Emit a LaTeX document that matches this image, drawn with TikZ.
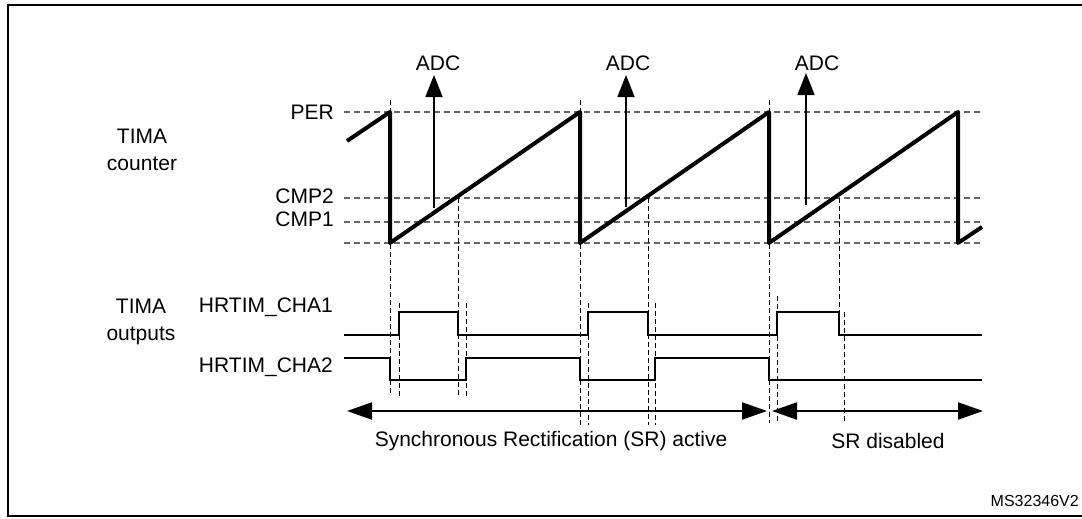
\documentclass[tikz,border=0pt]{standalone}
\usepackage{fontspec}
\setmainfont{Liberation Sans}
\usetikzlibrary{arrows.meta}
\begin{document}
\begin{tikzpicture}[x=1pt,y=-1pt,
  lbl/.style={font=\fontsize{21}{26.5}\selectfont, inner sep=0pt, align=center},
  level/.style={draw=black!60, dash pattern=on 6pt off 4pt, line width=1.3pt},
  vguide/.style={draw=black, dash pattern=on 5pt off 3pt, line width=1pt},
  saw/.style={line width=4pt, line join=round},
  sig/.style={line width=2.5pt},
  adcarrow/.style={line width=1.6pt, -{Triangle[length=22pt,width=17pt]}},
  span/.style={line width=2.2pt, {Triangle[length=25pt,width=17pt]}-{Triangle[length=25pt,width=17pt]}},
]
\useasboundingbox (0,0) rectangle (1082,519);
% frame
\draw[line width=2.6pt] (1090,5) -- (8,5) -- (8,516) -- (1090,516);

% left labels
\node[lbl] (tc) at (142,150) {TIMA\\counter};
\node[lbl] (to) at (141,322) {TIMA\\outputs};
\node[lbl, anchor=east] (per) at (334,112) {PER};
\node[lbl, anchor=east] (cmp2) at (334,196) {CMP2};
\node[lbl, anchor=east] (cmp1) at (334,219) {CMP1};
\node[lbl, anchor=east] (cha1) at (333,307) {HRTIM\_CHA1};
\node[lbl, anchor=east] (cha2) at (333,367) {HRTIM\_CHA2};

% level guides
\coordinate (perL) at (344,112); \coordinate (perR) at (982,112);
\coordinate (c2L) at (344,198);  \coordinate (c2R) at (982,198);
\coordinate (c1L) at (344,222);  \coordinate (c1R) at (982,222);
\coordinate (zL) at (344,243);   \coordinate (zR) at (982,243);
\draw[level] (perL) -- (perR);
\draw[level] (c2L) -- (c2R);
\draw[level] (c1L) -- (c1R);
\draw[level] (zL) -- (zR);

% vertical guides
\draw[vguide] (390,100) -- (390,393);
\draw[vguide] (399,303) -- (399,396);
\draw[vguide] (458,198) -- (458,396);
\draw[vguide] (466,303) -- (466,396);
\draw[vguide] (580,100) -- (580,425);
\draw[vguide] (588,303) -- (588,425);
\draw[vguide] (648,198) -- (648,425);
\draw[vguide] (655,303) -- (655,425);
\draw[vguide] (769,100) -- (769,423);
\draw[vguide] (777,296) -- (777,423);
\draw[vguide] (839,198) -- (839,335);
\draw[vguide] (844,312) -- (844,422);

% sawtooth counter
\draw[saw] (347,141) -- (390,112) -- (390,243) -- (580,112) -- (580,243)
  -- (769,112) -- (769,243) -- (958,112) -- (958,243) -- (982,227);

% ADC triggers
\node[lbl] (adc1) at (438,63) {ADC};
\node[lbl] (adc2) at (628,63) {ADC};
\node[lbl] (adc3) at (817,63) {ADC};
\coordinate (t1) at (434,208);
\coordinate (t2) at (626,207);
\coordinate (t3) at (806,205);
\draw[adcarrow] (t1) -- (434,75);
\draw[adcarrow] (t2) -- (626,75);
\draw[adcarrow] (t3) -- (806,73);

% outputs
\draw[sig] (344,335) -- (399,335) -- (399,312) -- (458,312) -- (458,335)
  -- (588,335) -- (588,312) -- (648,312) -- (648,335)
  -- (777,335) -- (777,312) -- (839,312) -- (839,335) -- (982,335);
\draw[sig] (344,358) -- (390,358) -- (390,380) -- (466,380) -- (466,358)
  -- (580,358) -- (580,380) -- (655,380) -- (655,358)
  -- (769,358) -- (769,380) -- (982,380);

% spans
\coordinate (a1) at (347,411); \coordinate (a2) at (767,411);
\coordinate (b1) at (772,411); \coordinate (b2) at (983,411);
\draw[span] (a1) -- (a2);
\draw[span] (b1) -- (b2);
\node[lbl] (sra) at (551,441) {Synchronous Rectification (SR) active};
\node[lbl] (srd) at (888,441) {SR disabled};

\node[font=\fontsize{16}{18}\selectfont, inner sep=0pt, anchor=base east] (ms) at (1079,506) {MS32346V2};
\end{tikzpicture}
\end{document}
